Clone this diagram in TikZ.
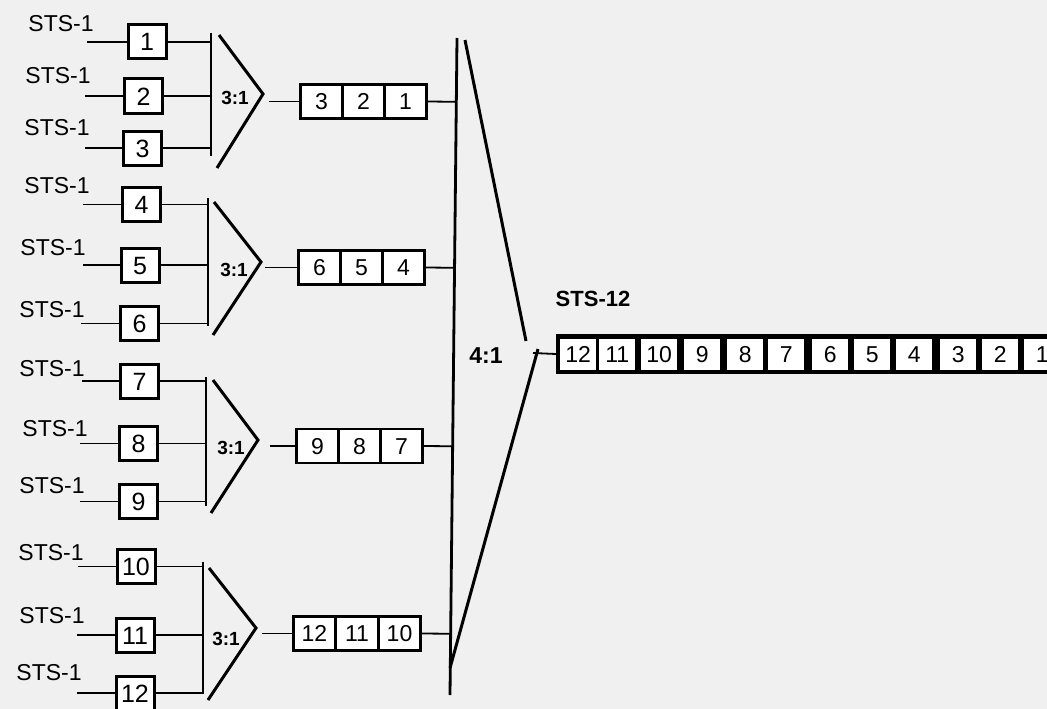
\documentclass[tikz,border=0pt]{standalone}
\usepackage{fontspec}
\setmainfont{Liberation Sans}
\usetikzlibrary{calc}
\definecolor{bgc}{RGB}{240,240,240}
\tikzset{
  lab/.style={font=\fontsize{23}{23}\selectfont, inner sep=0pt, text height=16.5pt, text depth=0pt},
  inbox/.style={draw, line width=3pt, minimum width=38pt, minimum height=34pt, inner sep=0pt,
     font=\fontsize{25}{25}\selectfont, text height=18pt, text depth=0pt, fill=white},
  cell/.style={draw, line width=2.6pt, minimum width=42pt, minimum height=34pt, inner sep=0pt,
     font=\fontsize{23}{23}\selectfont, text height=16.5pt, text depth=0pt, fill=white},
  win/.style={fill=white, minimum width=36pt, minimum height=31pt, inner sep=0pt, anchor=west,
     font=\fontsize{23}{23}\selectfont, text height=16.5pt, text depth=0pt},
  wire/.style={line width=1.8pt},
  busline/.style={line width=2.8pt},
  mux/.style={line width=3pt, line join=miter},
  ratio/.style={font=\bfseries\fontsize{19}{19}\selectfont, inner sep=0pt},
  bigratio/.style={font=\bfseries\fontsize{23}{23}\selectfont, inner sep=0pt},
}
\begin{document}
\begin{tikzpicture}[x=1pt,y=-1pt]
\fill[bgc] (0,0) rectangle (1047,709);
\useasboundingbox (0,0) rectangle (1047,709);

% ---------- STS-1 labels ----------
\node[lab] (s1) at (61,23) {STS-1};
\node[lab] (s2) at (58,75) {STS-1};
\node[lab] (s3) at (57,127) {STS-1};
\node[lab] (s4) at (57,185) {STS-1};
\node[lab] (s5) at (53,247) {STS-1};
\node[lab] (s6) at (52,309) {STS-1};
\node[lab] (s7) at (52,368) {STS-1};
\node[lab] (s8) at (55,428) {STS-1};
\node[lab] (s9) at (52,485) {STS-1};
\node[lab] (s10) at (51,552) {STS-1};
\node[lab] (s11) at (52,615) {STS-1};
\node[lab] (s12) at (49,672) {STS-1};

% ---------- input boxes ----------
\node[inbox] (b1) at (147,42) {1};
\node[inbox] (b2) at (143.5,96) {2};
\node[inbox] (b3) at (142.5,148) {3};
\node[inbox] (b4) at (141.5,204.5) {4};
\node[inbox] (b5) at (140,265) {5};
\node[inbox] (b6) at (139.5,323.5) {6};
\node[inbox] (b7) at (139.5,381) {7};
\node[inbox] (b8) at (138.5,443.5) {8};
\node[inbox] (b9) at (138.5,501.5) {9};
\node[inbox] (b10) at (136,566.5) {10};
\node[inbox] (b11) at (135,635) {11};
\node[inbox] (b12) at (135,693) {12};

% ---------- input wire starts ----------
\coordinate (i1) at (87,42);
\coordinate (i2) at (85,96);
\coordinate (i3) at (85,148);
\coordinate (i4) at (83,204.5);
\coordinate (i5) at (83,265);
\coordinate (i6) at (81,323.5);
\coordinate (i7) at (82,381);
\coordinate (i8) at (80,443.5);
\coordinate (i9) at (80,501.5);
\coordinate (i10) at (78,566.5);
\coordinate (i11) at (77,635);
\coordinate (i12) at (77,693);
\foreach \k in {1,...,12} { \draw[wire] (i\k) -- (b\k.west); }

% ---------- group buses ----------
\coordinate (g1t) at (211,33);  \coordinate (g1b) at (211,156);
\coordinate (g2t) at (208,198); \coordinate (g2b) at (208,326);
\coordinate (g3t) at (206,377); \coordinate (g3b) at (206,506);
\coordinate (g4t) at (203,562); \coordinate (g4b) at (203,694);
\foreach \g in {1,...,4} { \draw[busline] (g\g t) -- (g\g b); }
\foreach \k/\g in {1/1,2/1,3/1,4/2,5/2,6/2,7/3,8/3,9/3,10/4,11/4,12/4}
  { \draw[wire] (b\k.east) -- (b\k.east -| g\g t); }

% ---------- 3:1 multiplexers ----------
\coordinate (t1a) at (219,35);  \coordinate (t1b) at (263,94);  \coordinate (t1c) at (217,168);
\coordinate (t2a) at (214,202); \coordinate (t2b) at (261,262); \coordinate (t2c) at (213,335);
\coordinate (t3a) at (213,380); \coordinate (t3b) at (258,440); \coordinate (t3c) at (211,513);
\coordinate (t4a) at (209,568); \coordinate (t4b) at (256,628); \coordinate (t4c) at (208,700);
\foreach \g in {1,...,4} { \draw[mux] (t\g a) -- (t\g b) -- (t\g c); }
\node[ratio] (r1) at (235,98) {3:1};
\node[ratio] (r2) at (234,270) {3:1};
\node[ratio] (r3) at (231,448) {3:1};
\node[ratio] (r4) at (226,639) {3:1};

% ---------- STS-3 frames ----------
\node[cell] (c13) at (321.5,101.5) {3};
\node[cell] (c12) at (363.5,101.5) {2};
\node[cell] (c11) at (405.5,101.5) {1};
\node[cell] (c23) at (319.5,267.5) {6};
\node[cell] (c22) at (361.5,267.5) {5};
\node[cell] (c21) at (403.5,267.5) {4};
\node[cell] (c33) at (317.5,446) {9};
\node[cell] (c32) at (359.5,446) {8};
\node[cell] (c31) at (401.5,446) {7};
\node[cell] (c43) at (314.5,633.5) {12};
\node[cell] (c42) at (357,633.5) {11};
\node[cell] (c41) at (399.5,633.5) {10};

\coordinate (o1) at (269,101.5);
\coordinate (o2) at (265,267.5);
\coordinate (o3) at (270,446);
\coordinate (o4) at (262,633.5);
\foreach \g in {1,...,4} { \draw[wire] (o\g) -- (c\g 3.west); }

% ---------- 4:1 multiplexer ----------
\coordinate (Ba) at (457,38);
\coordinate (Bb) at (450,695);
\draw[busline] (Ba) -- (Bb);
\foreach \g in {1,...,4} { \draw[wire] (c\g 1.east) -- ($(Ba)!(c\g 1.east)!(Bb)$); }
\coordinate (Ua) at (465,40);
\coordinate (Ub) at (526,341);
\coordinate (La) at (538,349);
\coordinate (Lb) at (450,668);
\draw[mux] (Ua) -- (Ub);
\draw[mux] (La) -- (Lb);
\node[bigratio] (r5) at (486,356) {4:1};
\coordinate (o5) at (533,353);

% ---------- STS-12 frame ----------
\node[bigratio, font=\bfseries\fontsize{22}{22}\selectfont] (sts12) at (593,299) {STS-12};
\node[fill=black, minimum width=505pt, minimum height=40pt, inner sep=0pt, anchor=west] (big) at (556,354) {};
\foreach \x/\n in {560/12,599/11,641/10,684/9,727/8,768/7,812/6,854/5,896/4,940/3,982/2,1024/1}
  { \node[win] (w\n) at (\x,354.5) {\n}; }
\draw[wire] (o5) -- (big.west);
\end{tikzpicture}
\end{document}
